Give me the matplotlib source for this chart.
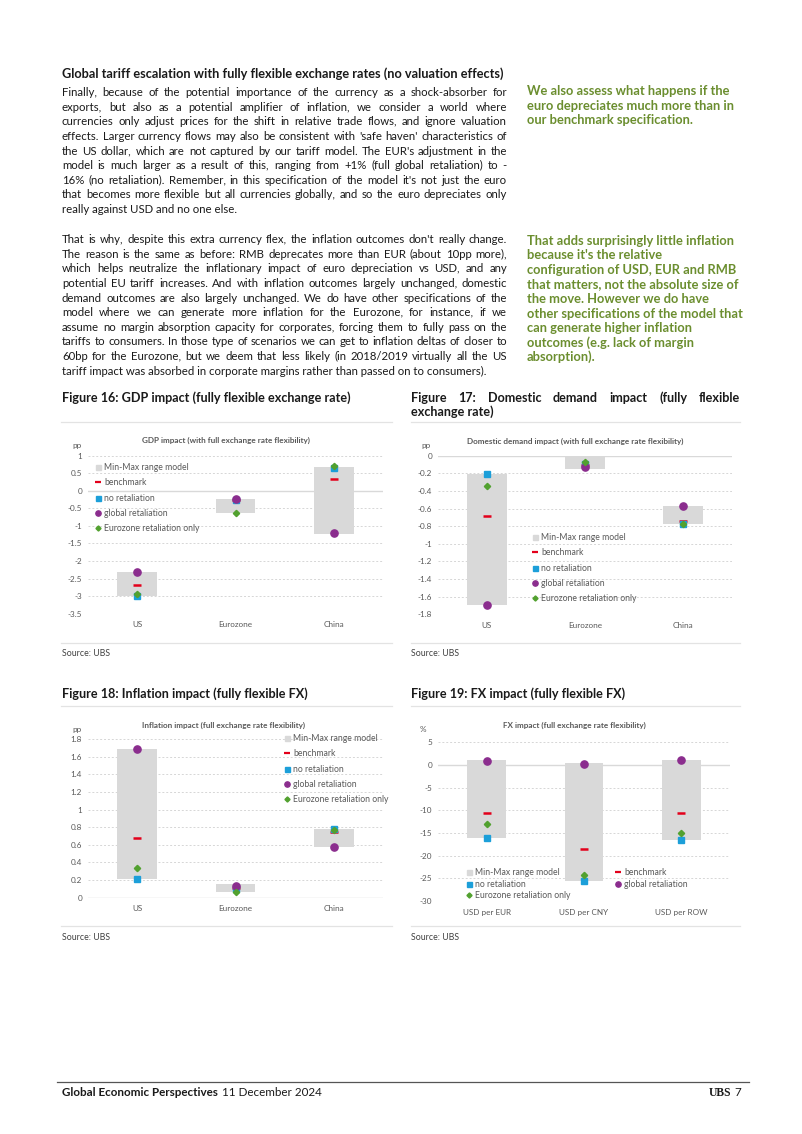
import math
import matplotlib
matplotlib.use("Agg")
import matplotlib.pyplot as plt
from matplotlib.lines import Line2D
from matplotlib.font_manager import FontProperties, findfont, get_font
from matplotlib.backends.backend_agg import get_hinting_flag
import numpy as np

# ---- page text ----
heading = "Global tariff escalation with fully flexible exchange rates (no valuation effects)"
para1 = [
    "Finally, because of the potential importance of the currency as a shock-absorber for",
    "exports, but also as a potential amplifier of inflation, we consider a world where",
    "currencies only adjust prices for the shift in relative trade flows, and ignore valuation",
    "effects. Larger currency flows may also be consistent with 'safe haven' characteristics of",
    "the US dollar, which are not captured by our tariff model. The EUR's adjustment in the",
    "model is much larger as a result of this, ranging from +1% (full global retaliation) to -",
    "16% (no retaliation). Remember, in this specification of the model it's not just the euro",
    "that becomes more flexible but all currencies globally, and so the euro depreciates only",
    "really against USD and no one else.",
]
para2 = [
    "That is why, despite this extra currency flex, the inflation outcomes don't really change.",
    "The reason is the same as before: RMB deprecates more than EUR (about 10pp more),",
    "which helps neutralize the inflationary impact of euro depreciation vs USD, and any",
    "potential EU tariff increases. And with inflation outcomes largely unchanged, domestic",
    "demand outcomes are also largely unchanged. We do have other specifications of the",
    "model where we can generate more inflation for the Eurozone, for instance, if we",
    "assume no margin absorption capacity for corporates, forcing them to fully pass on the",
    "tariffs to consumers. In those type of scenarios we can get to inflation deltas of closer to",
    "60bp for the Eurozone, but we deem that less likely (in 2018/2019 virtually all the US",
    "tariff impact was absorbed in corporate margins rather than passed on to consumers).",
]
side1 = [
    "We also assess what happens if the",
    "euro depreciates much more than in",
    "our benchmark specification.",
]
side2 = [
    "That adds surprisingly little inflation",
    "because it's the relative",
    "configuration of USD, EUR and RMB",
    "that matters, not the absolute size of",
    "the move. However we do have",
    "other specifications of the model that",
    "can generate higher inflation",
    "outcomes (e.g. lack of margin",
    "absorption).",
]

# ---- chart data ----
categories = ["US", "Eurozone", "China"]
fx_categories = ["USD per EUR", "USD per CNY", "USD per ROW"]
labels = ["Min-Max range model", "benchmark", "no retaliation",
          "global retaliation", "Eurozone retaliation only"]

gdp_min = [-3.0, -0.62, -1.23]
gdp_max = [-2.32, -0.24, 0.69]
gdp_bench = [-2.69, -0.27, 0.33]
gdp_noret = [-3.0, -0.25, 0.66]
gdp_global = [-2.32, -0.24, -1.21]
gdp_ez = [-2.95, -0.62, 0.71]

dd_min = [-1.69, -0.155, -0.77]
dd_max = [-0.21, 0.0, -0.57]
dd_bench = [-0.68, -0.11, -0.74]
dd_noret = [-0.21, -0.09, -0.78]
dd_global = [-1.69, -0.13, -0.57]
dd_ez = [-0.34, -0.07, -0.77]

inf_min = [0.21, 0.07, 0.57]
inf_max = [1.69, 0.15, 0.78]
inf_bench = [0.68, 0.11, 0.74]
inf_noret = [0.21, 0.10, 0.78]
inf_global = [1.69, 0.13, 0.57]
inf_ez = [0.34, 0.07, 0.77]

fx_min = [-16.0, -25.6, -16.5]
fx_max = [1.0, 0.4, 1.1]
fx_bench = [-10.5, -18.5, -10.6]
fx_noret = [-16.0, -25.6, -16.5]
fx_global = [0.9, 0.3, 1.0]
fx_ez = [-13.0, -24.2, -15.0]

GRAY_BAR = "#d9d9d9"
RED = "#e3001b"
BLUE = "#1c9fd9"
PURPLE = "#8b2d8e"
GREEN = "#52a12f"
AXIS_TXT = "#595959"
SIDE_GREEN = "#6b8e2f"
TXT = "#1a1a1a"

W, H = 802, 1134
DPI = 100
fig = plt.figure(figsize=(W / DPI, H / DPI), dpi=DPI)
fig.patch.set_facecolor("white")
rend = fig.canvas.get_renderer()


def fx(x):
    return x / W


def fy(y):
    return 1 - y / H


def width_px(s, **kw):
    t = fig.text(0, 0, s, **kw)
    w = t.get_window_extent(rend).width
    t.remove()
    return w


def fit_size(lines, target, **kw):
    widest = max(width_px(s, fontsize=10, **kw) for s in lines)
    return 10 * target / widest


def row_shift(word, y, size, family, weight):
    # Agg snaps each text bitmap to whole pixels; work out where the
    # baseline really lands so every word of a line sits on the same row
    font = get_font(findfont(FontProperties(family=family, weight=weight)))
    font.clear()
    font.set_size(size, DPI)
    font.set_text(word, 0, flags=get_hinting_flag())
    _, h = font.get_width_height()
    d = font.get_descent() / 64
    h = h / 64
    return round(y + d) - y - math.floor(h) + math.floor(h - d)


def put_lines(lines, x0, y0, step, size, x1=None, **kw):
    # justified when x1 is given (last line stays ragged)
    base = size * DPI / 72 * 0.36
    fam = kw.get("family")
    wt = kw.get("weight", "normal")
    for i, line in enumerate(lines):
        y = round(y0 + i * step + base)
        if x1 is None or i == len(lines) - 1:
            fig.text(fx(x0), fy(y), line, fontsize=size, va="baseline", **kw)
            continue
        words = line.split()
        ws = [width_px(w, fontsize=size, **kw) for w in words]
        gap = (x1 - x0 - sum(ws)) / max(len(words) - 1, 1)
        x = x0
        for w, ww in zip(words, ws):
            yy = y - row_shift(w, y, size, fam, wt)
            fig.text(fx(x), fy(yy), w, fontsize=size, va="baseline", **kw)
            x += ww + gap


BODY = dict(family="Lato", color=TXT)
BOLD = dict(family="Lato", weight="bold", color=TXT)

body_size = fit_size(para1[:-1] + para2, 442, **BODY)
bold_size = fit_size([heading], 444, **BOLD)

put_lines([heading], 62, 73.5, 14.6, bold_size, **BOLD)
put_lines(para1, 62, 92, 14.6, body_size, x1=507, **BODY)
put_lines(para2, 62, 239, 14.6, body_size, x1=507, **BODY)

SIDE = dict(family="Lato", weight="bold", color=SIDE_GREEN)
side_size = fit_size([side2[0]], 206, **SIDE)
put_lines(side1, 527, 90.5, 14.6, side_size, **SIDE)
put_lines(side2, 527, 240, 14.6, side_size, **SIDE)

# figure titles
fig_size = fit_size(["Figure 16: GDP impact (fully flexible exchange rate)"], 289, **BOLD)
put_lines(["Figure 16: GDP impact (fully flexible exchange rate)"], 62, 397, 14.6, fig_size, **BOLD)
put_lines(["Figure 17: Domestic demand impact (fully flexible", "exchange rate)"],
          411, 397, 14.4, fig_size, x1=740, **BOLD)
put_lines(["Figure 18: Inflation impact (fully flexible FX)"], 62, 693.5, 14.6, fig_size, **BOLD)
put_lines(["Figure 19: FX impact (fully flexible FX)"], 411, 693.5, 14.6, fig_size, **BOLD)

# thin separators
for (xa, xb) in [(61, 392), (411, 740)]:
    for yy in [421.7, 642.7, 706, 926]:
        fig.add_artist(Line2D([fx(xa), fx(xb)], [fy(yy), fy(yy)], color="#e3e3e3", lw=0.9))

src_size = fit_size(["Source: UBS"], 48, family="Lato")
for (xs, ys) in [(62, 653), (411, 653), (62, 938), (411, 938)]:
    fig.text(fx(xs), fy(ys), "Source: UBS", fontsize=src_size, family="Lato",
             color="#404040", va="center")

# chart fonts
CH = dict(family="Lato")
title_size = fit_size(["GDP impact (with full exchange rate flexibility)"], 170, weight="bold", **CH)
tick_size = 5.9


def chart(px, ylim, yticks, cats, lo, hi, bench, noret, glob, ez, title, tcx, tcy, unit, ux, uy):
    x0, x1, ytop, ybot = px
    ax = fig.add_axes([fx(x0), fy(ybot), fx(x1) - fx(x0), (ybot - ytop) / H])
    ax.set_facecolor("none")
    x = np.arange(len(cats))
    lo = np.array(lo)
    hi = np.array(hi)
    ax.bar(x, hi - lo, bottom=lo, width=0.4, color=GRAY_BAR, zorder=2)
    ax.plot(x, bench, ls="none", marker="_", ms=6, mew=1.8, color=RED, zorder=3)
    ax.plot(x, noret, ls="none", marker="s", ms=4.4, color=BLUE, zorder=4)
    ax.plot(x, glob, ls="none", marker="o", ms=5.2, color=PURPLE, zorder=5)
    ax.plot(x, ez, ls="none", marker="D", ms=3.2, color=GREEN, zorder=6)
    ax.set_xlim(-0.5, len(cats) - 0.5)
    ax.set_ylim(*ylim)
    ax.set_yticks(yticks)
    ax.set_yticklabels([f"{round(v, 1) + 0.0:g}" for v in yticks])
    ax.set_xticks(x)
    ax.set_xticklabels(cats)
    for s in ax.spines.values():
        s.set_visible(False)
    ax.tick_params(length=0, labelsize=tick_size, labelcolor=AXIS_TXT)
    ax.tick_params(axis="y", pad=4.3)
    ax.tick_params(axis="x", pad=5.5)
    for lab in ax.get_xticklabels() + ax.get_yticklabels():
        lab.set_family("Lato")
    for v in yticks:
        if abs(v) < 1e-9:
            ax.axhline(0, color="#d9d9d9", lw=1.0, zorder=1)
        else:
            ax.axhline(v, color="#d6d6d6", lw=0.7, ls=(0, (2, 2)), zorder=1)
    fig.text(fx(tcx), fy(tcy), title, fontsize=title_size, weight="bold",
             color=AXIS_TXT, ha="center", va="center", **CH)
    fig.text(fx(ux), fy(uy), unit, fontsize=tick_size, color=AXIS_TXT,
             ha="center", va="center", **CH)
    return ax


def handles():
    return [
        Line2D([], [], ls="none", marker="s", ms=3.6, color=GRAY_BAR),
        Line2D([], [], ls="none", marker="_", ms=4.5, mew=1.6, color=RED),
        Line2D([], [], ls="none", marker="s", ms=3.6, color=BLUE),
        Line2D([], [], ls="none", marker="o", ms=3.8, color=PURPLE),
        Line2D([], [], ls="none", marker="D", ms=2.6, color=GREEN),
    ]


def add_legend(ax, xa, ya, ncol=1, order=None, spacing=0.74, colsp=2.0):
    h = handles()
    lab = list(labels)
    if order is not None:
        h = [h[i] for i in order]
        lab = [lab[i] for i in order]
    leg = ax.legend(h, lab, loc="upper left", bbox_to_anchor=(fx(xa), fy(ya)),
                    bbox_transform=fig.transFigure, frameon=False, ncol=ncol,
                    handlelength=0.7, handletextpad=0.35,
                    labelspacing=spacing, borderpad=0, borderaxespad=0,
                    columnspacing=colsp, prop=dict(family="Lato", size=6.2))
    for t in leg.get_texts():
        t.set_color(AXIS_TXT)
    return leg


ax1 = chart((88, 383, 455.7, 613.7), (-3.5, 1), np.arange(-3.5, 1.01, 0.5), categories,
            gdp_min, gdp_max, gdp_bench, gdp_noret, gdp_global, gdp_ez,
            "GDP impact (with full exchange rate flexibility)", 226, 440.5, "pp", 77, 445)
add_legend(ax1, 95, 463)

ax2 = chart((438, 732, 455.7, 614.3), (-1.8, 0), np.arange(-1.8, 0.01, 0.2), categories,
            dd_min, dd_max, dd_bench, dd_noret, dd_global, dd_ez,
            "Domestic demand impact (with full exchange rate flexibility)", 575, 441, "pp", 426, 445)
add_legend(ax2, 532, 533)

ax3 = chart((88, 383, 739, 897.7), (0, 1.8), np.arange(0, 1.81, 0.2), categories,
            inf_min, inf_max, inf_bench, inf_noret, inf_global, inf_ez,
            "Inflation impact (full exchange rate flexibility)", 224, 725, "pp", 77, 729.5)
add_legend(ax3, 284, 734)

ax4 = chart((438, 730, 742.3, 901), (-30, 5), np.arange(-30, 5.1, 5), fx_categories,
            fx_min, fx_max, fx_bench, fx_noret, fx_global, fx_ez,
            "FX impact (full exchange rate flexibility)", 574, 725, "%", 423, 729.5)
add_legend(ax4, 466, 868, ncol=2, order=[0, 2, 4, 1, 3], spacing=0.3, colsp=5.2)

# footer
fig.add_artist(Line2D([fx(57), fx(749)], [fy(1082), fy(1082)], color="#555555", lw=0.9))
FOOT = dict(family="Lato", color=TXT, va="center")
foot_b = fit_size(["Global Economic Perspectives"], 156, weight="bold", family="Lato")
fig.text(fx(62), fy(1093), "Global Economic Perspectives", fontsize=foot_b, weight="bold", **FOOT)
fig.text(fx(222), fy(1093), "11 December 2024", fontsize=foot_b, **FOOT)
fig.text(fx(731), fy(1093), "UBS", fontsize=foot_b, weight="bold", family="Liberation Serif",
         color=TXT, va="center", ha="right")
fig.text(fx(741), fy(1093), "7", fontsize=foot_b, family="Lato", color=TXT, va="center", ha="right")

fig.savefig("out.png", dpi=DPI, facecolor="white")
